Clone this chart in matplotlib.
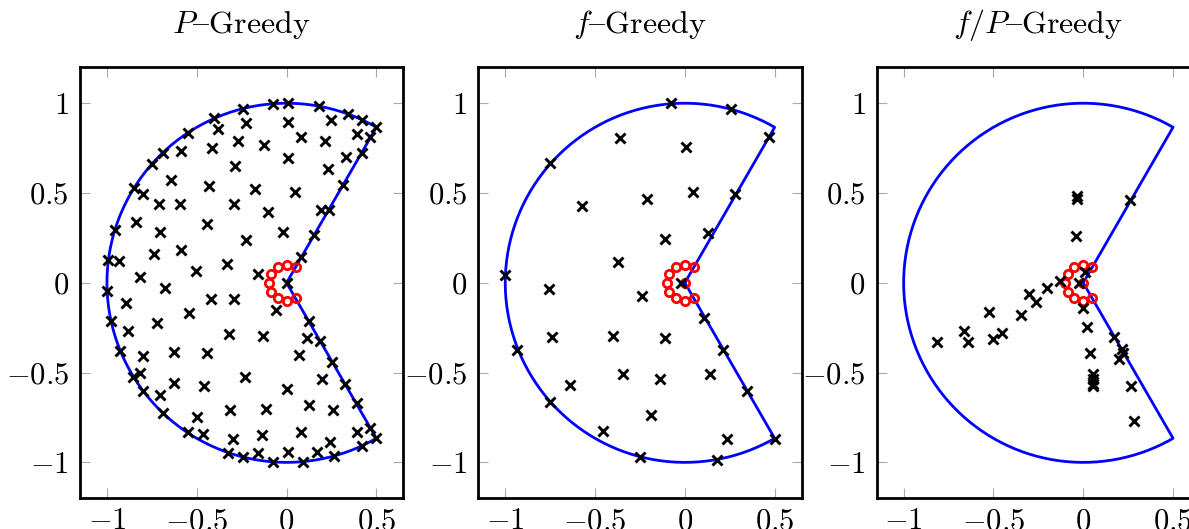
import numpy as np
import matplotlib
matplotlib.use('Agg')
import matplotlib.pyplot as plt

plt.rcParams['mathtext.fontset'] = 'cm'
plt.rcParams['font.family'] = ['cmr10', 'DejaVu Serif']

# selected points
p_x = [-0.074, 0.007, 0.18, -0.243, 0.344, -0.405, 0.007, 0.249, 0.422, -0.225,
       -0.379, 0.5, 0.465, 0.078, 0.39, -0.55, -0.271, 0.212, -0.126, -0.413,
       -0.585, -0.688, 0.418, -0.747, 0.329, 0.007, -0.288, 0.232, -0.641, 0.314,
       -0.433, -0.178, -0.851, -0.799, 0.048, -0.712, -0.591, -0.294, 0.19, 0.236,
       -0.102, -0.836, -0.442, -0.957, -0.703, -0.02, 0.152, -0.225, -0.74, -0.585,
       0.082, -0.994, -0.933, -0.333, -0.506, -0.816, -0.158, 0.0, -1.0, -0.675,
       -0.42, -0.294, -0.892, -0.056, -0.545, -0.976, 0.125, -0.723, -0.881, -0.322,
       -0.132, 0.112, 0.184, -0.929, -0.628, -0.442, 0.072, -0.801, 0.251, -0.814,
       -0.853, -0.232, 0.195, -0.628, -0.457, 0.327, -0.799, 0.004, -0.703, 0.39,
       0.125, -0.69, -0.316, -0.117, 0.258, -0.498, 0.465, -0.55, -0.465, 0.078,
       0.39, 0.5, -0.299, -0.138, 0.242, -0.325, 0.007, -0.158, 0.171, 0.422,
       -0.243, 0.264, -0.074, 0.093]
p_y = [0.998, 1.0, 0.983, 0.968, 0.94, 0.916, 0.898, 0.905, 0.905, 0.89,
       0.859, 0.866, 0.812, 0.812, 0.831, 0.835, 0.792, 0.788, 0.766, 0.751,
       0.736, 0.723, 0.723, 0.664, 0.701, 0.693, 0.652, 0.634, 0.571, 0.546,
       0.541, 0.522, 0.528, 0.496, 0.507, 0.441, 0.441, 0.441, 0.407, 0.407,
       0.394, 0.336, 0.329, 0.296, 0.283, 0.284, 0.264, 0.236, 0.162, 0.18,
       0.141, 0.128, 0.121, 0.104, 0.065, 0.035, 0.048, 0.0, -0.043, -0.03,
       -0.091, -0.091, -0.115, -0.154, -0.169, -0.212, -0.212, -0.225, -0.271, -0.284,
       -0.299, -0.305, -0.322, -0.377, -0.388, -0.392, -0.401, -0.405, -0.442, -0.504,
       -0.526, -0.522, -0.537, -0.556, -0.574, -0.565, -0.6, -0.591, -0.625, -0.671,
       -0.682, -0.723, -0.708, -0.704, -0.708, -0.749, -0.81, -0.831, -0.842, -0.833,
       -0.829, -0.866, -0.868, -0.848, -0.887, -0.946, -0.941, -0.95, -0.942, -0.907,
       -0.968, -0.965, -0.996, -0.996]

f_x = [-0.076, 0.259, 0.467, -0.359, 0.004, -0.75, 0.045, 0.281, -0.575, -0.21,
       -0.112, 0.127, -0.374, -1.002, -0.758, -0.024, -0.238, 0.108, -0.741, -0.399,
       -0.108, -0.933, 0.212, -0.343, -0.138, 0.14, -0.642, 0.346, -0.75, -0.186,
       -0.456, 0.236, 0.501, -0.248, 0.177]
f_y = [1.0, 0.967, 0.814, 0.804, 0.758, 0.665, 0.508, 0.497, 0.426, 0.467,
       0.244, 0.277, 0.115, 0.043, -0.032, 0.0, -0.073, -0.194, -0.3, -0.294,
       -0.309, -0.376, -0.374, -0.51, -0.536, -0.51, -0.57, -0.601, -0.665, -0.734,
       -0.823, -0.868, -0.868, -0.97, -0.985]

fp_x = [-0.037, -0.037, 0.263, -0.043, 0.009, -0.127, -0.022, -0.203, -0.302, -0.264,
        0.0, -0.527, -0.348, 0.02, -0.665, -0.454, -0.505, -0.639, -0.816, 0.171,
        0.214, 0.223, 0.199, 0.039, 0.052, 0.052, 0.054, 0.056, 0.266, 0.281]
fp_y = [0.486, 0.467, 0.46, 0.263, 0.061, 0.009, 0.0, -0.028, -0.065, -0.108,
        -0.142, -0.162, -0.179, -0.244, -0.266, -0.281, -0.315, -0.328, -0.331, -0.3,
        -0.371, -0.393, -0.426, -0.389, -0.51, -0.538, -0.561, -0.574, -0.575, -0.767]

# in cmr10 the '{' slot holds the en dash
titles = [r'$P${Greedy', r'$f${Greedy', r'$f/P${Greedy']
xticks = [-1, -0.5, 0, 0.5]
yticks = [-1, -0.5, 0, 0.5, 1]

# domain boundary: unit circle between 60 and 300 degrees, closed through the origin
t = np.linspace(np.pi / 3, 5 * np.pi / 3, 300)
bx = np.concatenate([[0], np.cos(t), [0]])
by = np.concatenate([[0], np.sin(t), [0]])

# small ring of red points around the corner
ang = np.deg2rad(np.arange(60, 301, 30))
rx = 0.1 * np.cos(ang)
ry = 0.1 * np.sin(ang)

fig = plt.figure(figsize=(11.89, 5.29), dpi=100)
lefts = [80 / 1189, 478.3 / 1189, 876.7 / 1189]
data = [(p_x, p_y), (f_x, f_y), (fp_x, fp_y)]


def tick_lab(v):
    return '$%g$' % v


for i in range(3):
    ax = fig.add_axes([lefts[i], 30.7 / 529, 323.3 / 1189, 431 / 529])
    ax.plot(bx, by, color='blue', lw=2.0, zorder=2)
    rxx, ryy = rx, ry
    if i > 0:
        rxx = np.append(rx, 0)
        ryy = np.append(ry, 0)
    ax.plot(rxx, ryy, 'o', ms=6, mfc='none', mec='red', mew=2, zorder=3)
    x, y = data[i]
    ax.plot(x, y, 'x', color='black', ms=6.5, mew=2.1, zorder=4)
    ax.set_xlim(-1.15, 0.65)
    ax.set_ylim(-1.2, 1.2)
    ax.set_xticks(xticks)
    ax.set_yticks(yticks)
    ax.set_xticklabels([tick_lab(v) for v in xticks])
    ax.set_yticklabels([tick_lab(v) for v in yticks])
    ax.tick_params(direction='in', length=7, width=0.8, color='#aaaaaa',
                   top=True, right=True, labelsize=22)
    ax.tick_params(axis='y', pad=8)
    ax.tick_params(axis='x', pad=7)
    for s in ax.spines.values():
        s.set_linewidth(2)
    ax.set_title(titles[i], fontsize=23, pad=25)

fig.savefig('out.png', dpi=100)
